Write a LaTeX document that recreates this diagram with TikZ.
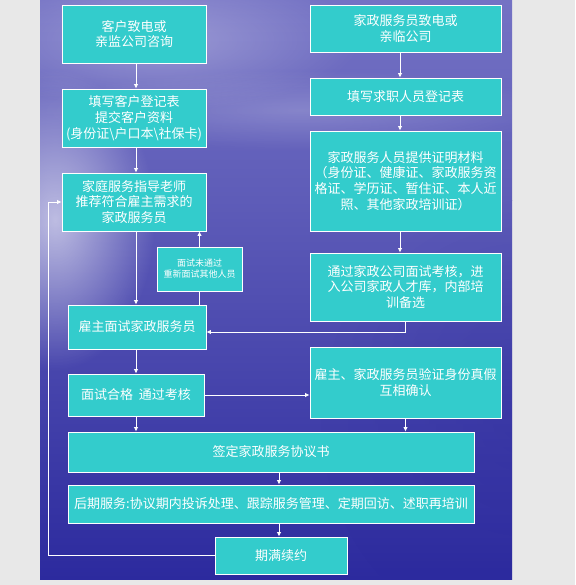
\documentclass[tikz,border=0pt]{standalone}
\usepackage{fontspec}
\setmainfont{Noto Sans CJK SC}
\usetikzlibrary{arrows.meta,fadings,calc}
\definecolor{margin}{HTML}{E8E8E8}
\definecolor{teal}{HTML}{33CCCC}
\definecolor{skytop}{HTML}{7472C4}
\definecolor{skymid}{HTML}{5E5CB8}
\definecolor{seabot}{HTML}{2C2A9E}
\tikzfading[name=glow, inner color=transparent!0, outer color=transparent!100]
\tikzset{
  box/.style={draw=white, line width=0.9pt, fill=teal, text=white, align=center,
    inner sep=0pt, font=\fontsize{13}{15.8}\selectfont},
  smallbox/.style={box, font=\fontsize{9}{11}\selectfont},
  arr/.style={draw=white, line width=0.8pt, -{Latex[length=4.5pt,width=4.5pt]}},
  ln/.style={draw=white, line width=0.8pt}
}
\begin{document}
\begin{tikzpicture}[x=1pt,y=-1pt]
\useasboundingbox (0,0) rectangle (575,585);
\fill[margin] (0,0) rectangle (575,585);
% background picture
\begin{scope}
\clip (40,0) rectangle (512,579);
\shade[top color=skytop, bottom color=skymid] (40,0) rectangle (512,200);
\shade[top color=skymid, bottom color=seabot] (40,200) rectangle (512,579);
\fill[white, opacity=0.6, path fading=glow] (55,220) ellipse (100 and 150);
\fill[white, opacity=0.3, path fading=glow] (160,40) ellipse (200 and 70);
\fill[white, opacity=0.2, path fading=glow] (300,110) ellipse (260 and 40);
\fill[seabot, opacity=0.35, path fading=glow] (520,420) ellipse (200 and 220);
\end{scope}
% nodes
\node[box, minimum width=144, minimum height=58] (b1) at (134,34) {客户致电或\\亲监公司咨询};
\node[box, minimum width=144, minimum height=58] (b2) at (134,118) {填写客户登记表\\提交客户资料\\(身份证\textbackslash 户口本\textbackslash 社保卡)};
\node[box, minimum width=144, minimum height=58] (b3) at (134,202) {家庭服务指导老师\\推荐符合雇主需求的\\家政服务员};
\node[smallbox, minimum width=85, minimum height=44] (sm) at (199.5,269) {面试未通过\\重新面试其他人员};
\node[box, minimum width=138, minimum height=44] (emp) at (137,327) {雇主面试家政服务员};
\node[box, minimum width=136, minimum height=42] (pass) at (136,395) {面试合格\ \ 通过考核};
\node[box, minimum width=191, minimum height=47] (r1) at (405.5,28.5) {家政服务员致电或\\亲临公司};
\node[box, minimum width=191, minimum height=37] (r2) at (405.5,96.5) {填写求职人员登记表};
\node[box, minimum width=191, minimum height=100] (r3) at (405.5,181) {家政服务人员提供证明材料\\（身份证、健康证、家政服务资\\格证、学历证、暂住证、本人近\\照、其他家政培训证）};
\node[box, minimum width=191, minimum height=68] (r4) at (405.5,287) {通过家政公司面试考核，进\\入公司家政人才库，内部培\\训备选};
\node[box, minimum width=191, minimum height=71] (r5) at (405.5,382.5) {雇主、家政服务员验证身份真假\\互相确认};
\node[box, minimum width=406, minimum height=40] (sign) at (271,452) {签定家政服务协议书};
\node[box, minimum width=406, minimum height=38] (after) at (271,504) {后期服务:协议期内投诉处理、跟踪服务管理、定期回访、述职再培训};
\node[box, minimum width=132, minimum height=37] (end) at (281,555.5) {期满续约};
% helper coordinates
\coordinate (xl) at (136,0);
\coordinate (xr) at (400,0);
\coordinate (xm) at (279,0);
\coordinate (xf) at (48,0);
% connectors
\draw[arr] (b1.south -| xl) -- (b2.north -| xl);
\draw[arr] (b2.south -| xl) -- (b3.north -| xl);
\draw[arr] (b3.south -| xl) -- (emp.north -| xl);
\draw[arr] (sm.north) -- (b3.south -| sm.north);
\draw[ln] (sm.south) -- (emp.north -| sm.south);
\draw[arr] (r1.south -| xr) -- (r2.north -| xr);
\draw[arr] (r2.south -| xr) -- (r3.north -| xr);
\draw[arr] (r3.south -| xr) -- (r4.north -| xr);
\coordinate (ein) at ($(emp.east)+(0,5)$);
\draw[arr] (r4.south) -- (r4.south |- ein) -- (ein);
\draw[arr] (emp.south -| xl) -- (pass.north -| xl);
\draw[arr] (pass.east) -- (r5.west |- pass.east);
\draw[arr] (pass.south -| xl) -- (sign.north -| xl);
\draw[arr] (r5.south) -- (sign.north -| r5.south);
\draw[arr] (sign.south -| xm) -- (after.north -| xm);
\draw[arr] (after.south -| xm) -- (end.north -| xm);
\draw[arr] (end.west) -- (end.west -| xf) -- (b3.west -| xf) -- (b3.west);
\end{tikzpicture}
\end{document}
